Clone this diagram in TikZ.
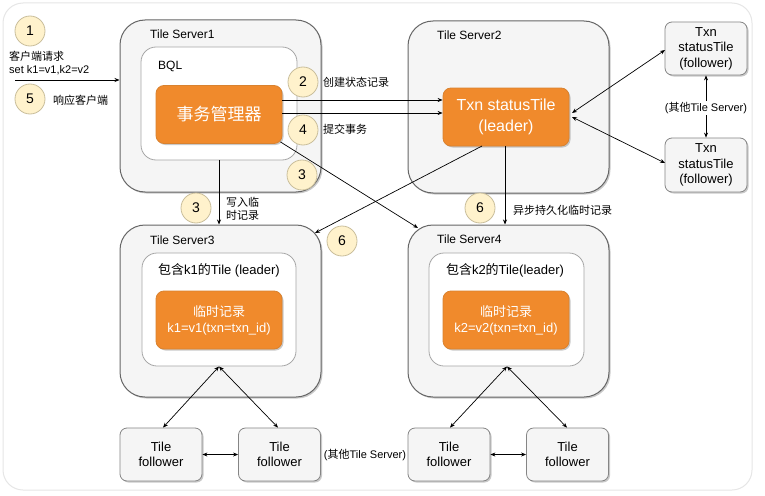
\documentclass[tikz,border=0pt]{standalone}
\usepackage{fontspec}
\setmainfont{Liberation Sans}
\newfontfamily\cjk{Noto Sans CJK SC}
\newcommand\cj[1]{{\cjk #1}}
\usetikzlibrary{arrows.meta,shadows,calc}
\definecolor{srvfill}{HTML}{F5F5F5}
\definecolor{srvline}{HTML}{666666}
\definecolor{innline}{HTML}{A6A6A6}
\definecolor{orng}{HTML}{F08A2C}
\definecolor{orngline}{HTML}{D9822F}
\definecolor{circfill}{HTML}{FFF2CC}
\definecolor{circline}{HTML}{C9BE9B}
\definecolor{bgline}{HTML}{E6E6E6}
\tikzset{
  shad/.style={drop shadow={shadow xshift=1.5pt,shadow yshift=-1.5pt,opacity=0.35,fill=black!60}},
  server/.style={draw=srvline,line width=1pt,fill=srvfill,rounded corners=25pt,shad,minimum width=201pt,minimum height=172pt,inner sep=0pt},
  inner/.style={draw=innline,line width=0.8pt,fill=white,rounded corners=15pt,minimum height=113pt,inner sep=0pt},
  orbox/.style={draw=orngline,line width=0.8pt,fill=orng,rounded corners=8pt,shad,minimum width=126pt,minimum height=58pt,inner sep=0pt,text=white,align=center},
  foll/.style={draw=srvline!80,line width=0.8pt,fill=srvfill,rounded corners=7pt,shad,minimum width=82pt,minimum height=53pt,inner sep=0pt,align=center,font=\fontsize{13}{15.5}\selectfont},
  circ/.style={circle,draw=circline,line width=0.8pt,fill=circfill,minimum size=30pt,inner sep=0pt,font=\fontsize{14}{16}\selectfont},
  lbl/.style={inner sep=0pt,font=\fontsize{11}{13}\selectfont,align=left},
  ttl/.style={inner sep=0pt,anchor=west,font=\fontsize{12}{14}\selectfont},
  arr/.style={line width=0.7pt,-{Stealth[length=5pt,width=4pt]}},
  darr/.style={line width=0.7pt,{Stealth[length=5pt,width=4pt]}-{Stealth[length=5pt,width=4pt]}},
}
\begin{document}
\begin{tikzpicture}[x=1pt,y=-1pt]
\useasboundingbox (0,0) rectangle (765,495);
\node[draw=bgline,line width=1pt,fill=white,rounded corners=20pt,minimum width=749pt,minimum height=487pt,inner sep=0pt] (bg) at (377.5,246.5) {};

% servers
\node[server] (S1) at (220.5,106) {};
\node[server] (S2) at (508.5,107) {};
\node[server] (S3) at (220.5,311) {};
\node[server] (S4) at (508.5,311) {};

\node[ttl] (t1) at (150,34) {Tile Server1};
\node[ttl] (t2) at (437,35) {Tile Server2};
\node[ttl] (t3) at (150,240) {Tile Server3};
\node[ttl] (t4) at (437,239) {Tile Server4};

\node[inner,minimum width=156pt] (BQL) at (219,103.5) {};
\node[ttl] (bqlt) at (158,66) {BQL};
\node[orbox,font=\fontsize{17}{20}\cjk] (TM) at (219,114.5) {事务管理器};

\node[orbox,font=\fontsize{16}{21}\selectfont] (TL) at (506,117) {Txn statusTile\\(leader)};

\node[foll] (F1) at (706,48.5) {Txn\\statusTile\\(follower)};
\node[foll,minimum height=54pt] (F2) at (706,165) {Txn\\statusTile\\(follower)};

\node[inner,minimum width=154pt] (I3) at (219,309.5) {};
\node[inner,minimum width=155pt] (I4) at (506.5,309.5) {};
\node[inner sep=0pt,font=\fontsize{13}{15}\selectfont] (i3t) at (219,270) {\cj{包含}k1\cj{的}Tile (leader)};
\node[inner sep=0pt,font=\fontsize{13}{15}\selectfont] (i4t) at (505,270) {\cj{包含}k2\cj{的}Tile(leader)};
\node[orbox,font=\fontsize{13}{16}\selectfont] (O3) at (219,320) {\cj{临时记录}\\k1=v1(txn=txn\_id)};
\node[orbox,font=\fontsize{13}{16}\selectfont] (O4) at (506,320) {\cj{临时记录}\\k2=v2(txn=txn\_id)};

\node[foll] (L1) at (161,454.5) {Tile\\follower};
\node[foll] (L2) at (279.5,454.5) {Tile\\follower};
\node[foll] (R1) at (449,454.5) {Tile\\follower};
\node[foll] (R2) at (567.5,454.5) {Tile\\follower};

% coordinates
\coordinate (cin) at (15,80);
\coordinate (y100) at (0,100);
\coordinate (y113) at (0,113);
\coordinate (s4in) at (418,228);
\coordinate (tlb1) at (482,146);
\coordinate (s3in) at (315,233);
\coordinate (tlr1) at (572,113);
\coordinate (tlr2) at (572,117);
\coordinate (f1l) at (665,50);
\coordinate (f2l) at (665,163);
\coordinate (i3b) at (219,366.5);
\coordinate (i4b) at (507,366.5);

% connectors
\draw[arr] (cin) -- (S1.west |- cin);
\draw[arr] (TM.east |- y100) -- (TL.west |- y100);
\draw[arr] (TM.east |- y113) -- (TL.west |- y113);
\draw[arr] ([xshift=-2pt,yshift=2pt]TM.south east) -- (s4in);
\draw[arr] (tlb1) -- (s3in);
\draw[arr] (TL.south -| 505,0) -- (S4.north -| 505,0);
\draw[arr] (BQL.south) -- (S3.north -| BQL.south);
\draw[darr] (tlr1) -- (f1l);
\draw[darr] (tlr2) -- (f2l);
\draw[darr] (F1.south) -- (F2.north);
\draw[darr] (i3b) -- (L1.north -| 163,0);
\draw[darr] (i3b) -- (L2.north -| 278,0);
\draw[darr] (i4b) -- (R1.north -| 450,0);
\draw[darr] (i4b) -- (R2.north -| 567,0);
\draw[darr] (L1.east) -- (L2.west);
\draw[darr] (R1.east) -- (R2.west);

% labels
\node[lbl,fill=white,inner sep=1pt] (oth1) at (706,108) {(\cj{其他}Tile Server)};
\node[lbl] (oth2) at (365,455) {(\cj{其他}Tile Server)};
\node[lbl,anchor=west] (req) at (9,63) {\cj{客户端请求}\\set k1=v1,k2=v2};
\node[lbl,anchor=west] (resp) at (53,100) {\cj{响应客户端}};
\node[lbl,anchor=west] (cre) at (323,82) {\cj{创建状态记录}};
\node[lbl,anchor=west] (com) at (323,129) {\cj{提交事务}};
\node[lbl,anchor=west] (wr) at (226,208.5) {\cj{写入临}\\\cj{时记录}};
\node[lbl,anchor=west] (asy) at (513,210) {\cj{异步持久化临时记录}};

% step circles
\node[circ] (c1) at (30,31) {1};
\node[circ] (c5) at (30,99) {5};
\node[circ] (c2) at (303,82) {2};
\node[circ] (c4) at (303,130) {4};
\node[circ] (c3a) at (302,175) {3};
\node[circ] (c3b) at (196,208) {3};
\node[circ] (c6a) at (342,241) {6};
\node[circ] (c6b) at (480,208) {6};
\end{tikzpicture}
\end{document}
